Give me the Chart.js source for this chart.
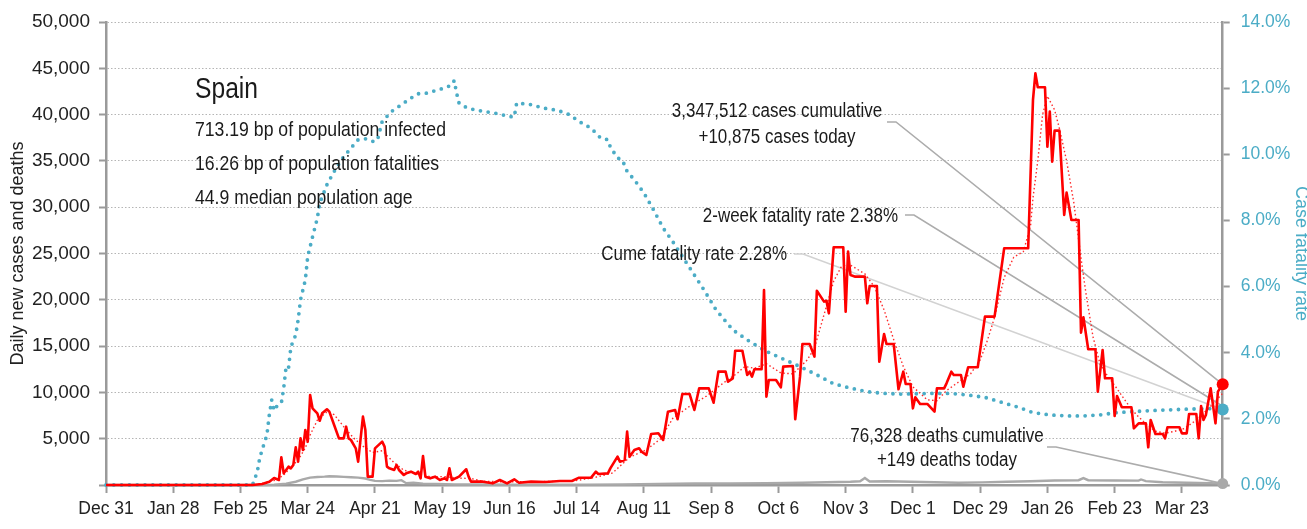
<!DOCTYPE html>
<html>
<head>
<meta charset="utf-8">
<script src="https://cdn.jsdelivr.net/npm/chart.js@4/dist/chart.umd.min.js"></script>
<style>
  html, body { margin: 0; padding: 0; background: #fff; }
  #wrap { width: 1307px; height: 529px; position: relative; }
</style>
</head>
<body>
<div id="wrap"><canvas id="c"></canvas></div>
<script>
// Days are counted from Dec 31, 2019.
const tickDays   = [0, 28, 56, 84, 112, 140, 168, 196, 224, 252, 280, 308, 336, 364, 392, 420, 448];
const tickLabels = ['Dec 31', 'Jan 28', 'Feb 25', 'Mar 24', 'Apr 21', 'May 19', 'Jun 16', 'Jul 14',
                    'Aug 11', 'Sep 8', 'Oct 6', 'Nov 3', 'Dec 1', 'Dec 29', 'Jan 26', 'Feb 23', 'Mar 23'];
const lastDay = 465;

// Daily new cases
const caseDays = [0, 61, 65, 68, 70, 72, 73, 74, 76, 77, 78, 79, 80, 81, 82, 83, 84, 85, 86, 88, 89, 90, 92, 93, 95,
  97, 99, 100, 101, 102, 104, 105, 107, 108, 109, 111, 112, 115, 116, 117, 118, 120, 121, 122, 124, 125, 127, 129,
  130, 131, 132, 133, 135, 137, 139, 141, 142, 143, 144, 147, 150, 151, 152, 157, 161, 164, 167, 170, 172, 177,
  183, 189, 194, 197, 202, 204, 205, 209, 210, 213, 214, 216, 217, 218, 220, 222, 223, 225, 227, 230, 232, 234,
  237, 238, 240, 243, 245, 247, 251, 253, 255, 258, 259, 261, 262, 265, 267, 268, 269, 270, 273, 274, 275, 276,
  279, 281, 282, 286, 287, 289, 290, 293, 295, 296, 299, 300, 301, 303, 307, 308, 309, 310, 312, 316, 317, 318,
  321, 322, 324, 325, 328, 330, 332, 333, 335, 336, 337, 339, 342, 345, 346, 349, 350, 352, 353, 356, 357, 359,
  363, 366, 370, 374, 384, 386, 387, 388, 391, 392, 393, 394, 395, 397, 399, 400, 402, 405, 406, 407, 409, 412,
  413, 415, 416, 419, 420, 421, 423, 427, 428, 430, 433, 434, 435, 437, 440, 441, 442, 447, 448, 450, 451, 454,
  455, 456, 457, 458, 460, 462, 463, 465];
const caseCounts = [0, 0, 100, 360, 760, 540, 2990, 1260, 1980, 1800, 2160, 4070, 2520, 5040, 3780, 5940, 4680, 9720,
  8280, 7740, 6940, 7740, 8180, 7920, 6480, 5040, 5040, 6300, 5040, 4860, 3960, 2520, 7380, 5940, 900, 900, 3960,
  4680, 4140, 1980, 1800, 1620, 2160, 1620, 1080, 1260, 1440, 1190, 1440, 720, 3130, 900, 720, 900, 540, 720, 540,
  1800, 540, 900, 1700, 900, 360, 360, 180, 540, 180, 620, 250, 360,
  320, 430, 430, 790, 790, 1440, 1190, 1260, 1800, 3060, 2520, 2700, 5760, 3060, 3780, 3960, 3600, 3240, 5510,
  5580, 4860, 7920, 8100, 7100, 9830, 9830, 8100, 10440, 10440, 8890, 12240, 12240, 11160, 11520, 14500, 14500,
  11880, 12240, 11700, 12500, 12500, 21060, 9540, 11340, 11340, 10550, 12780, 12850, 7100, 11700, 15230, 15230,
  13860, 20980, 19800, 19900, 18540, 25670, 25670, 18720, 25200, 22680, 22500, 22500, 19620, 21490, 21490, 13320,
  16300, 15230, 15230, 10340, 12240, 10900, 10900, 8280, 9470, 8750, 8750, 7920, 10440, 10440, 10980, 12240,
  11880, 11880, 10620, 12710, 12710, 18180, 18180, 25560, 25560, 41580, 44460, 42950, 42950, 36540, 40320, 34920,
  38270, 38270, 29160, 31570, 28620, 28620, 16450, 18110, 14660, 14660, 10080, 14580, 11520, 11520, 7450, 9610,
  8390, 8390, 6120, 6660, 6660, 4070, 7020, 5510, 5510, 5040, 6230, 6230, 5580, 5580, 7670, 7670, 5040, 8530,
  7020, 7560, 10440, 6660, 10080, 10875];

// Trailing average of daily cases
const avgDays = [0, 62, 65, 68, 71, 74, 77, 80, 83, 85, 88, 92, 95, 99, 103, 107, 111, 115, 120, 124, 129, 135, 141,
  146, 152, 157, 165, 175, 185, 195, 200, 205, 211, 218, 225, 231, 236, 243, 250, 257, 263, 266, 270, 275, 281,
  286, 292, 295, 298, 300, 303, 306, 309, 316, 320, 324, 328, 332, 336, 342, 346, 350, 356, 360, 364, 367, 370,
  374, 378, 382, 385, 386, 388, 390, 392, 395, 397, 400, 403, 406, 408, 411, 414, 417, 421, 425, 429, 433, 437,
  441, 445, 449, 454, 460, 465];
const avgCounts = [0, 0, 150, 350, 550, 1100, 1900, 2700, 4000, 5400, 7000, 7900, 7600, 6300, 5100, 4200, 3500, 3700,
  2400, 1600, 1250, 900, 900, 750, 700, 400, 350, 350, 380, 450, 650, 900, 1300, 3000, 3800, 5000, 7200, 8500,
  9600, 11000, 12100, 12800, 12600, 13100, 12100, 12000, 13500, 14800, 17500, 19300, 22000, 23500, 23900, 22800,
  21400, 18900, 15700, 12800, 10600, 9200, 9100, 10200, 11300, 12000, 13500, 15600, 18100, 22400, 24600, 25200,
  28000, 31000, 35000, 40000, 42000, 40500, 38500, 35000, 30500, 24500, 20800, 16000, 13000, 11800, 10400, 8900,
  7600, 6600, 5800, 5600, 5800, 6100, 7000, 8500, 9900];

// Daily deaths
const deathDays = [0, 62, 70, 75, 79, 82, 85, 88, 91, 93, 96, 99, 102, 105, 108, 110, 112, 115, 118, 121, 123, 125,
  128, 132, 138, 145, 155, 170, 190, 200, 215, 230, 245, 260, 275, 290, 300, 310, 314, 316, 318, 325, 335, 345,
  355, 365, 375, 385, 395, 405, 407, 409, 420, 430, 431, 433, 440, 450, 460, 465];
const deathCounts = [0, 0, 30, 150, 350, 600, 800, 870, 900, 950, 920, 880, 840, 800, 700, 560, 450, 420, 470, 450,
  520, 200, 250, 150, 120, 60, 50, 30, 30, 40, 60, 120, 160, 180, 200, 250, 300, 350, 400, 750, 380, 400, 350,
  300, 250, 280, 350, 400, 480, 520, 750, 520, 480, 470, 600, 420, 300, 250, 200, 149];

// Cumulative case fatality rate, percent
const cfrDays = [0, 61, 63, 64, 65, 67, 68, 69, 70, 71, 73, 74, 75, 76, 77, 79, 80, 81, 83, 84, 86, 88, 89, 92, 95,
  98, 102, 105, 108, 111, 113, 115, 119, 122, 127, 130, 134, 138, 141, 144, 145, 146, 147, 149, 152, 157, 163,
  168, 170, 171, 177, 182, 188, 193, 197, 202, 206, 209, 210, 213, 215, 217, 220, 224, 228, 232, 236, 240, 245,
  249, 254, 261, 268, 275, 282, 289, 296, 303, 310, 317, 324, 331, 345, 352, 359, 366, 372, 380, 386, 393, 400,
  407, 414, 421, 435, 449, 459, 465];
const cfrPct = [0, 0, 0.40, 0.81, 1.06, 1.51, 2.12, 2.57, 2.25, 2.37, 2.47, 2.93, 3.58, 3.53, 4.18, 4.54, 4.99, 5.60,
  6.20, 6.91, 7.50, 8.07, 8.52, 9.08, 9.48, 9.83, 10.19, 10.44, 10.47, 10.39, 10.42, 10.99, 11.30, 11.45, 11.70,
  11.83, 11.85, 11.95, 12.00, 12.10, 12.23, 11.85, 11.55, 11.45, 11.37, 11.30, 11.23, 11.14, 11.13, 11.55, 11.50,
  11.40, 11.33, 11.20, 10.99, 10.79, 10.49, 10.44, 10.22, 9.89, 9.83, 9.48, 9.23, 8.83, 8.32, 7.77, 7.36, 6.91,
  6.35, 5.90, 5.30, 4.69, 4.34, 4.04, 3.81, 3.58, 3.33, 3.06, 2.93, 2.82, 2.77, 2.75, 2.77, 2.77, 2.72, 2.65, 2.52,
  2.35, 2.19, 2.12, 2.09, 2.09, 2.12, 2.19, 2.25, 2.29, 2.31, 2.28];

const country = 'Spain';
const infoLines = ['713.19 bp of population infected', '16.26 bp of population fatalities', '44.9 median population age'];
const casesCumulative = '3,347,512';
const deathsCumulative = '76,328';
const twoWeekRate = 2.38;

const FONT = '"Liberation Sans", Arial, sans-serif';
const TEAL = '#4bacc6';
const AXIS = '#9a9a9a';

const pts = (xs, ys) => xs.map((x, i) => ({ x, y: ys[i] }));
const endOnly = (r) => (ctx) => (ctx.dataIndex === ctx.dataset.data.length - 1 ? r : 0);
const fmt = (n) => n.toLocaleString('en-US');

Chart.defaults.font.family = FONT;
Chart.defaults.color = '#222';

// Narrow lettering: text squeezed horizontally around its anchor point.
function narrowText(ctx, str, x, y, size, sx, align) {
  ctx.save();
  ctx.translate(x, y);
  ctx.scale(sx, 1);
  ctx.font = size + 'px ' + FONT;
  ctx.textAlign = align;
  ctx.textBaseline = 'alphabetic';
  ctx.fillText(str, 0, 0);
  ctx.restore();
}

const notes = {
  id: 'notes',
  beforeDatasetsDraw(chart) {
    const { ctx, scales } = chart;
    const xe = scales.x.getPixelForValue(lastDay);
    const leaders = [
      { from: [887, 122], to: [xe, scales.y.getPixelForValue(caseCounts[caseCounts.length - 1])], c: '#acacac' },
      { from: [905, 215], to: [xe, scales.y2.getPixelForValue(twoWeekRate)], c: '#acacac' },
      { from: [794, 254], to: [xe, scales.y2.getPixelForValue(cfrPct[cfrPct.length - 1])], c: '#d2d2d2' },
      { from: [1047, 447], to: [xe, scales.y.getPixelForValue(deathCounts[deathCounts.length - 1])], c: '#acacac' }
    ];
    ctx.save();
    ctx.lineWidth = 1.6;
    for (const l of leaders) {
      ctx.strokeStyle = l.c;
      ctx.beginPath();
      ctx.moveTo(l.from[0], l.from[1]);
      ctx.lineTo(l.from[0] + 9, l.from[1]);
      ctx.lineTo(l.to[0], l.to[1]);
      ctx.stroke();
    }
    ctx.restore();
  },
  afterDatasetsDraw(chart) {
    const { ctx } = chart;
    ctx.save();
    ctx.fillStyle = '#1a1a1a';
    narrowText(ctx, country, 195, 98, 29, 0.85, 'left');
    narrowText(ctx, infoLines[0], 195, 136, 20.5, 0.86, 'left');
    narrowText(ctx, infoLines[1], 195, 170, 20.5, 0.86, 'left');
    narrowText(ctx, infoLines[2], 195, 204, 20.5, 0.86, 'left');

    narrowText(ctx, casesCumulative + ' cases cumulative', 777, 117, 19.5, 0.87, 'center');
    narrowText(ctx, '+' + fmt(caseCounts[caseCounts.length - 1]) + ' cases today', 777, 143, 19.5, 0.87, 'center');
    narrowText(ctx, '2-week fatality rate ' + twoWeekRate.toFixed(2) + '%', 898, 222, 19.5, 0.87, 'right');
    narrowText(ctx, 'Cume fatality rate ' + cfrPct[cfrPct.length - 1].toFixed(2) + '%', 787, 260, 19.5, 0.87, 'right');
    narrowText(ctx, deathsCumulative + ' deaths cumulative', 947, 442, 19.5, 0.87, 'center');
    narrowText(ctx, '+' + fmt(deathCounts[deathCounts.length - 1]) + ' deaths today', 947, 466, 19.5, 0.87, 'center');
    ctx.restore();
  }
};

new Chart(document.getElementById('c'), {
  type: 'line',
  data: {
    datasets: [
      { label: 'Daily new cases', data: pts(caseDays, caseCounts), yAxisID: 'y',
        borderColor: '#ff0000', backgroundColor: '#ff0000', borderWidth: 2.6, borderJoinStyle: 'round',
        pointRadius: endOnly(6), pointBorderWidth: 0, clip: false },
      { label: 'Average', data: pts(avgDays, avgCounts), yAxisID: 'y',
        borderColor: '#ff2a2a', borderWidth: 1.4, borderDash: [1.5, 2.5], pointRadius: 0 },
      { label: 'Case fatality rate', data: pts(cfrDays, cfrPct), yAxisID: 'y2',
        borderColor: TEAL, backgroundColor: TEAL, borderWidth: 3.8, borderDash: [0, 7.8], borderCapStyle: 'round',
        pointRadius: endOnly(6), pointBorderWidth: 0, clip: false },
      { label: 'Daily deaths', data: pts(deathDays, deathCounts), yAxisID: 'y',
        borderColor: '#a9a9a9', backgroundColor: '#a9a9a9', borderWidth: 2.4,
        pointRadius: endOnly(5.5), pointBorderWidth: 0, clip: false }
    ]
  },
  options: {
    responsive: true,
    maintainAspectRatio: false,
    animation: false,
    layout: { padding: { top: 22, left: 0, right: 0, bottom: 0 } },
    plugins: { legend: { display: false }, tooltip: { enabled: false } },
    scales: {
      x: {
        type: 'linear', min: 0, max: lastDay,
        afterBuildTicks: (s) => { s.ticks = tickDays.map((v) => ({ value: v })); },
        afterFit: (s) => { s.height = 44; },
        ticks: {
          autoSkip: false, maxRotation: 0, padding: 6,
          font: { size: 17.5 }, color: '#222',
          callback: (v) => tickLabels[tickDays.indexOf(v)]
        },
        grid: { drawOnChartArea: false, drawTicks: true, tickLength: 8, tickColor: AXIS, tickWidth: 2 },
        border: { color: AXIS, width: 2.5 }
      },
      y: {
        position: 'left', min: 0, max: 50000,
        afterFit: (s) => { s.width = 106; },
        ticks: { stepSize: 5000, padding: 9, font: { size: 19 }, color: '#222',
                 callback: (v) => (v === 0 ? '' : fmt(v)) },
        grid: { color: '#b5b5b5', lineWidth: 1, tickColor: AXIS, tickLength: 7, tickWidth: 2 },
        border: { color: AXIS, width: 2.5, dash: [1.5, 2] },
        title: { display: true, text: 'Daily new cases and deaths', color: '#222',
                 font: { size: 18 }, padding: { top: 7, bottom: 0 } }
      },
      y2: {
        position: 'right', min: 0, max: 14,
        afterFit: (s) => { s.width = 84.3; },
        ticks: { stepSize: 2, padding: 11, font: { size: 17.5 }, color: TEAL, callback: (v) => v.toFixed(1) + '%' },
        grid: { drawOnChartArea: false, tickColor: AXIS, tickLength: 7, tickWidth: 2 },
        border: { color: AXIS, width: 2.5 },
        title: { display: true, text: 'Case fatality rate', color: TEAL,
                 font: { size: 18, lineHeight: 0.6 }, padding: { top: 1, bottom: 0 } }
      }
    }
  },
  plugins: [notes]
});
</script>
</body>
</html>
